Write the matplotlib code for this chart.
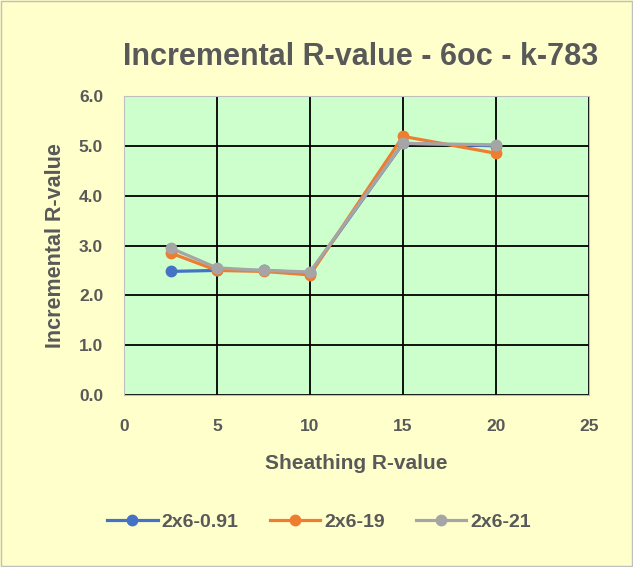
import matplotlib
matplotlib.use("Agg")
import matplotlib.pyplot as plt
from matplotlib.patches import Rectangle

plt.rcParams['font.family'] = ['Liberation Sans', 'DejaVu Sans']

x_vals = [2.5, 5, 7.5, 10, 15, 20]
s_091 = [2.48, 2.50, 2.50, 2.45, 5.05, 5.00]
s_19 = [2.85, 2.50, 2.48, 2.41, 5.19, 4.85]
s_21 = [2.95, 2.55, 2.50, 2.47, 5.05, 5.02]
series_names = ['2x6-0.91', '2x6-19', '2x6-21']
colors = ['#4472C4', '#ED7D31', '#A5A5A5']
x_ticks = [0, 5, 10, 15, 20, 25]
y_ticks = [0.0, 1.0, 2.0, 3.0, 4.0, 5.0, 6.0]

fig = plt.figure(figsize=(6.33, 5.67), dpi=100, facecolor='#FFFFCC')
fig.patches.append(Rectangle((0.002, 0.002), 0.996, 0.996, transform=fig.transFigure,
                             fill=False, edgecolor='#BFBFBF', linewidth=1))
ax = fig.add_axes([124/633, 1-395/567, (589-124)/633, (395-96)/567])
ax.set_facecolor('#CCFFCC')

for ys, name, c in zip([s_091, s_19, s_21], series_names, colors):
    ax.plot(x_vals, ys, color=c, linewidth=2.3, marker='o', markersize=7.5, label=name, zorder=3)

ax.set_xlim(0, 25)
ax.set_ylim(0, 6)
ax.set_xticks(x_ticks)
ax.set_yticks(y_ticks)
ax.set_yticklabels([f'{v:.1f}' for v in y_ticks])
ax.grid(True, color='black', linewidth=1.3, zorder=1)
ax.set_axisbelow(True)
for s in ax.spines.values():
    s.set_color('#BFBFBF')
ax.tick_params(length=0, labelsize=12.5, colors='#595959')
ax.tick_params(axis='y', pad=15)
ax.tick_params(axis='x', pad=17)
for lab in ax.get_xticklabels() + ax.get_yticklabels():
    lab.set_fontweight('bold')

ax.set_xlabel('Sheathing R-value', fontsize=15, fontweight='bold', color='#595959', labelpad=15)
ax.set_ylabel('Incremental R-value', fontsize=15.5, fontweight='bold', color='#595959', labelpad=9)
fig.text(361/633, 1-57/567, 'Incremental R-value - 6oc - k-783', ha='center', va='center',
         fontsize=22, fontweight='bold', color='#595959')

leg = fig.legend(loc='center', bbox_to_anchor=(319/633, 1-522/567), ncol=3, frameon=False,
                 prop={'size': 14, 'weight': 'bold'}, handlelength=2.6, columnspacing=1.6,
                 handletextpad=0.2)
for t in leg.get_texts():
    t.set_color('#595959')

fig.savefig('out.png', dpi=100, facecolor=fig.get_facecolor())
